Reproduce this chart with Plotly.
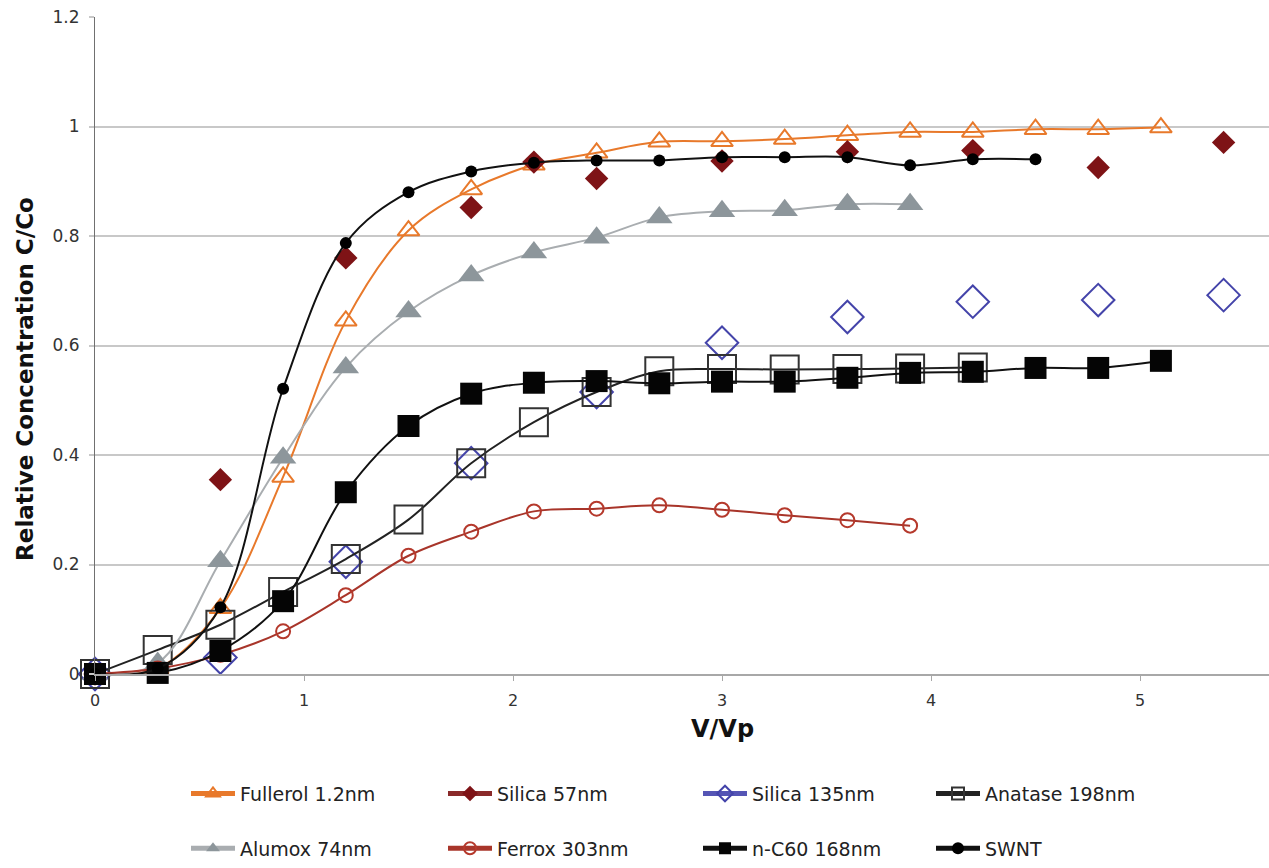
import plotly.graph_objects as go

# Pore volumes eluted (V/Vp) at which samples were collected
x_full = [0, 0.3, 0.6, 0.9, 1.2, 1.5, 1.8, 2.1, 2.4, 2.7, 3.0, 3.3, 3.6, 3.9, 4.2, 4.5, 4.8, 5.1]
x_silica57 = [0, 0.3, 0.6, 1.2, 1.8, 2.1, 2.4, 3.0, 3.6, 4.2, 4.8, 5.4]
x_silica135 = [0, 0.6, 1.2, 1.8, 2.4, 3.0, 3.6, 4.2, 4.8, 5.4]
x_anatase = [0, 0.3, 0.6, 0.9, 1.2, 1.5, 1.8, 2.1, 2.4, 2.7, 3.0, 3.3, 3.6, 3.9, 4.2]
x_alumox = [0, 0.3, 0.6, 0.9, 1.2, 1.5, 1.8, 2.1, 2.4, 2.7, 3.0, 3.3, 3.6, 3.9]
x_ferrox = [0, 0.3, 0.6, 0.9, 1.2, 1.5, 1.8, 2.1, 2.4, 2.7, 3.0, 3.3, 3.6, 3.9]
x_nc60 = [0, 0.3, 0.6, 0.9, 1.2, 1.5, 1.8, 2.1, 2.4, 2.7, 3.0, 3.3, 3.6, 3.9, 4.2, 4.5, 4.8, 5.1]
x_swnt = [0, 0.3, 0.6, 0.9, 1.2, 1.5, 1.8, 2.1, 2.4, 2.7, 3.0, 3.3, 3.6, 3.9, 4.2, 4.5]

# Relative concentration C/Co
y_fullerol = [0, 0.01, 0.12, 0.36, 0.645, 0.81, 0.885, 0.93, 0.952, 0.972, 0.973,
              0.977, 0.984, 0.99, 0.99, 0.995, 0.995, 0.998]
y_silica57 = [0, 0.01, 0.355, 0.76, 0.852, 0.935, 0.905, 0.937, 0.954, 0.956, 0.925, 0.971]
y_silica135 = [0, 0.03, 0.205, 0.385, 0.515, 0.605, 0.652, 0.68, 0.683, 0.692]
y_anatase = [0, 0.044, 0.09, 0.15, 0.21, 0.282, 0.385, 0.46, 0.515, 0.553, 0.557,
             0.556, 0.557, 0.558, 0.56]
y_alumox = [0, 0.02, 0.206, 0.395, 0.56, 0.662, 0.728, 0.77, 0.797, 0.834, 0.845,
            0.847, 0.858, 0.858]
y_ferrox = [0, 0.01, 0.035, 0.078, 0.144, 0.216, 0.26, 0.297, 0.302, 0.308, 0.3,
            0.29, 0.281, 0.271]
y_nc60 = [0, 0.002, 0.042, 0.133, 0.332, 0.453, 0.512, 0.532, 0.535, 0.531, 0.534,
          0.534, 0.541, 0.55, 0.552, 0.559, 0.559, 0.572]
y_swnt = [0, 0.01, 0.122, 0.521, 0.787, 0.88, 0.918, 0.934, 0.938, 0.938, 0.944,
          0.944, 0.944, 0.929, 0.94, 0.94]

x_ticks = [0, 1, 2, 3, 4, 5]
y_ticks = [0, 0.2, 0.4, 0.6, 0.8, 1.0, 1.2]

series = [
    # name, x, y, drawn with connecting line
    ("Fullerol 1.2nm", x_full, y_fullerol, True),
    ("Silica 57nm", x_silica57, y_silica57, False),
    ("Silica 135nm", x_silica135, y_silica135, False),
    ("Anatase 198nm", x_anatase, y_anatase, True),
    ("Alumox 74nm", x_alumox, y_alumox, True),
    ("Ferrox 303nm", x_ferrox, y_ferrox, True),
    ("n-C60 168nm", x_nc60, y_nc60, True),
    ("SWNT", x_swnt, y_swnt, True),
]

styles = [
    dict(line=dict(color="#E8792B", width=2),
         marker=dict(symbol="triangle-up-open", size=19, color="#E8792B", line=dict(width=2, color="#E8792B"))),
    dict(line=dict(color="#8A2A2A", width=2),
         marker=dict(symbol="diamond", size=18, color="#7E1316", line=dict(width=0))),
    dict(line=dict(color="#5555B5", width=2),
         marker=dict(symbol="diamond-open", size=25, color="#4444AA", line=dict(width=2, color="#4444AA"))),
    dict(line=dict(color="#222222", width=2),
         marker=dict(symbol="square-open", size=28, color="#333333", line=dict(width=2, color="#333333"))),
    dict(line=dict(color="#A9ADB0", width=2),
         marker=dict(symbol="triangle-up", size=23, color="#8D969B", line=dict(width=0))),
    dict(line=dict(color="#A8352A", width=2),
         marker=dict(symbol="circle-open", size=14, color="#B5392C", line=dict(width=2, color="#B5392C"))),
    dict(line=dict(color="#111111", width=2),
         marker=dict(symbol="square", size=22, color="#050505", line=dict(width=0))),
    dict(line=dict(color="#111111", width=2),
         marker=dict(symbol="circle", size=12, color="#000000", line=dict(width=0))),
]

# legend grid: four columns (text start, px), two rows (centre, px)
legend_text_cols = [240, 497, 752, 985]
legend_rows = [796, 851]
legend_item_w = 44
plot_left, plot_right, plot_top, plot_bottom = 95, 1269, 17, 676
px_per_unit = 209.0
plot_h = plot_bottom - plot_top
plot_w = plot_right - plot_left

fig = go.Figure()
layout_legends = {}
for i, ((name, xs, ys, with_line), st) in enumerate(zip(series, styles)):
    key = "legend" if i == 0 else f"legend{i + 1}"
    col = i % 4
    row = i // 4
    fig.add_trace(go.Scatter(
        x=xs, y=ys, name=name,
        mode="lines+markers" if with_line else "markers",
        line=dict(shape="spline", smoothing=1.0, **st["line"]),
        marker=st["marker"],
        cliponaxis=False,
        showlegend=with_line,
        legend=key,
    ))
    if not with_line:
        # legend entry keeps a line segment through the marker
        fig.add_trace(go.Scatter(
            x=[None], y=[None], name=name, mode="lines+markers",
            line=st["line"],
            marker=st["marker"],
            legend=key,
        ))
    left_px = legend_text_cols[col] - (legend_item_w + 10)
    layout_legends[key] = dict(
        x=(left_px - plot_left) / plot_w,
        y=(plot_bottom - legend_rows[row]) / plot_h,
        xanchor="left", yanchor="middle",
        orientation="h",
        bgcolor="rgba(0,0,0,0)",
        font=dict(family="DejaVu Sans", size=19, color="#222222"),
        itemsizing="constant",
        itemwidth=legend_item_w,
    )

fig.update_layout(
    width=1269, height=868,
    margin=dict(l=plot_left, r=1269 - plot_right, t=plot_top, b=868 - plot_bottom),
    paper_bgcolor="white", plot_bgcolor="white",
    font=dict(family="DejaVu Sans", color="#222222"),
    xaxis=dict(
        range=[0, plot_w / px_per_unit],
        tickmode="array", tickvals=x_ticks, ticktext=[str(v) for v in x_ticks],
        showgrid=False, zeroline=False,
        showline=True, linecolor="#A8A8A8", linewidth=2,
        ticks="outside", ticklen=5, tickcolor="#A8A8A8", tickwidth=1,
        ticklabelstandoff=6,
        tickfont=dict(family="DejaVu Sans", size=16, color="#333333"),
    ),
    yaxis=dict(
        range=[0, 1.2],
        tickmode="array", tickvals=y_ticks, ticktext=[f"{v:g}" for v in y_ticks],
        showgrid=True, gridcolor="#C8C8C8", gridwidth=2,
        zeroline=False,
        showline=True, linecolor="#707070", linewidth=1,
        ticks="outside", ticklen=5, tickcolor="#C8C8C8", tickwidth=2,
        ticklabelstandoff=6,
        tickfont=dict(family="DejaVu Sans", size=17, color="#333333"),
    ),
    annotations=[
        # x-axis title, centred on V/Vp = 3
        dict(text="<b>V/Vp</b>", x=3, xref="x",
             y=(plot_bottom - 731) / plot_h, yref="paper",
             showarrow=False, xanchor="center", yanchor="middle",
             font=dict(family="DejaVu Sans", size=24, color="#111111")),
        # y-axis title, rotated
        dict(text="<b>Relative Concentration C/Co</b>", textangle=-90,
             x=(25 - plot_left) / plot_w, xref="paper",
             y=(plot_bottom - 380) / plot_h, yref="paper",
             showarrow=False, xanchor="center", yanchor="middle",
             font=dict(family="DejaVu Sans", size=23, color="#111111")),
    ],
    **layout_legends,
)

fig.write_html("out.html")
